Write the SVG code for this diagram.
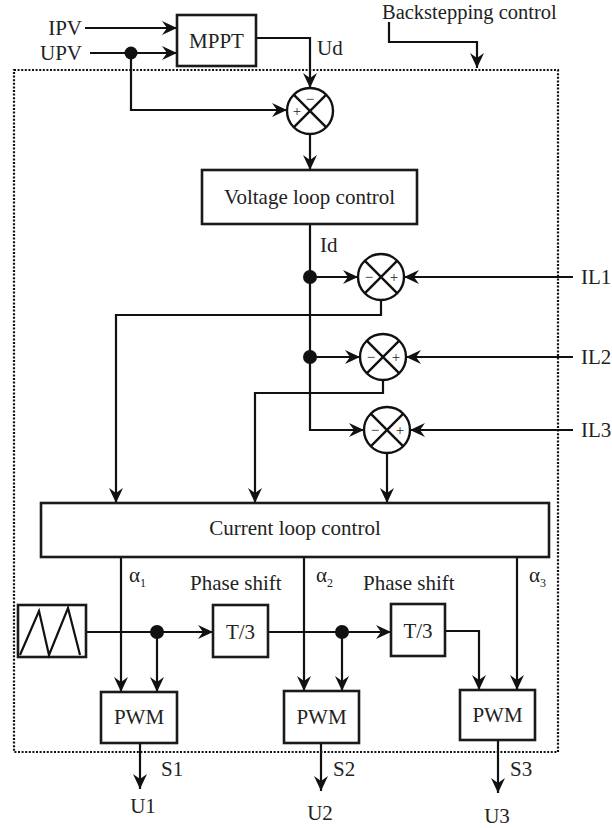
<svg xmlns="http://www.w3.org/2000/svg" width="612" height="828" viewBox="0 0 612 828">
<defs>
<style>
text{font-family:"Liberation Serif","Times New Roman",serif;font-size:21px;fill:#222}
.c{text-anchor:middle}
.e{text-anchor:end}
.sg{font-size:15px;text-anchor:middle}
.sub{font-size:12px}
.box{fill:#fff;stroke:#1a1a1a;stroke-width:2.6}
.ln{fill:none;stroke:#111;stroke-width:2.2}
.arr{fill:none;stroke:#111;stroke-width:2.2;marker-end:url(#ah)}
.dot{fill:#111}
.sum{fill:#fff;stroke:#111;stroke-width:2.4}
.x{stroke:#111;stroke-width:2.4}
</style>
<marker id="ah" markerUnits="userSpaceOnUse" viewBox="-16 -8 17 16" refX="0" refY="0" markerWidth="17" markerHeight="16" orient="auto">
<path d="M0,0 L-15,-7 L-10,0 L-15,7 Z" fill="#111"/>
</marker>
</defs>
<rect width="612" height="828" fill="#fff"/>

<g id="boundary">
<rect x="14" y="70" width="544" height="682" fill="none" stroke="#111" stroke-width="2.2" stroke-dasharray="2 1.6"/>
<text x="382" y="18.5" style="font-size:20.5px">Backstepping control</text>
</g>

<g id="connectors">
<path class="arr" d="M85,28 H177"/>
<path class="arr" d="M90,53 H177"/>
<path class="arr" d="M131,53 V110 H287"/>
<path class="arr" d="M256,38 H310 V88"/>
<path class="arr" d="M310,134 V170"/>
<path class="arr" d="M389,22 V42 H477 V68"/>
<path class="arr" d="M310,224 V430 H364"/>
<path class="arr" d="M310,277 H358"/>
<path class="arr" d="M573,277 H404"/>
<path class="arr" d="M381,300 V315 H116 V503"/>
<path class="arr" d="M310,357 H360"/>
<path class="arr" d="M573,357 H406"/>
<path class="arr" d="M383,380 V393 H255 V503"/>
<path class="arr" d="M573,430 H410"/>
<path class="arr" d="M387,453 V503"/>
<path class="arr" d="M121,557 V692"/>
<path class="arr" d="M304,557 V691"/>
<path class="arr" d="M517,557 V690"/>
<path class="arr" d="M86,632 H213"/>
<path class="arr" d="M157,632 V692"/>
<path class="arr" d="M268,632 H391"/>
<path class="arr" d="M342,632 V691"/>
<path class="arr" d="M445,631 H479 V690"/>
<path class="arr" d="M140,743 V789"/>
<path class="arr" d="M321,743 V791"/>
<path class="arr" d="M498,740 V793"/>
<circle class="dot" cx="131" cy="53" r="6.5"/>
<circle class="dot" cx="310" cy="277" r="7"/>
<circle class="dot" cx="310" cy="357" r="7"/>
<circle class="dot" cx="157" cy="632" r="7"/>
<circle class="dot" cx="342" cy="632" r="7"/>
<text x="82" y="35" class="e">IPV</text>
<text x="82" y="60" class="e">UPV</text>
<text x="317" y="55">Ud</text>
<text x="320" y="252">Id</text>
<text x="581" y="284">IL1</text>
<text x="581" y="364">IL2</text>
<text x="581" y="437">IL3</text>
<text x="129" y="582">α<tspan class="sub" dy="5">1</tspan></text>
<text x="316" y="582">α<tspan class="sub" dy="5">2</tspan></text>
<text x="529" y="582">α<tspan class="sub" dy="5">3</tspan></text>
<text x="190" y="590">Phase shift</text>
<text x="363" y="590">Phase shift</text>
<text x="161" y="776">S1</text>
<text x="333" y="776">S2</text>
<text x="510" y="776">S3</text>
<text x="143" y="813" class="c">U1</text>
<text x="320" y="820" class="c">U2</text>
<text x="497" y="823" class="c">U3</text>
</g>

<g id="mppt">
<rect class="box" x="177" y="15" width="79" height="51"/>
<text x="216.5" y="48" class="c">MPPT</text>
</g>

<g id="sum-voltage">
<circle class="sum" cx="310" cy="111" r="23"/>
<path class="x" d="M293.7,94.7 L326.3,127.3 M326.3,94.7 L293.7,127.3"/>
<text x="310" y="104" class="sg">−</text>
<text x="297" y="116" class="sg">+</text>
</g>

<g id="voltage-loop">
<rect class="box" x="202" y="170" width="215" height="54"/>
<text x="309.5" y="204" class="c">Voltage loop control</text>
</g>

<g id="sum-1">
<circle class="sum" cx="381" cy="277" r="23"/>
<path class="x" d="M364.7,260.7 L397.3,293.3 M397.3,260.7 L364.7,293.3"/>
<text x="369" y="282" class="sg">−</text>
<text x="394" y="282" class="sg">+</text>
</g>

<g id="sum-2">
<circle class="sum" cx="383" cy="357" r="23"/>
<path class="x" d="M366.7,340.7 L399.3,373.3 M399.3,340.7 L366.7,373.3"/>
<text x="371" y="362" class="sg">−</text>
<text x="396" y="362" class="sg">+</text>
</g>

<g id="sum-3">
<circle class="sum" cx="387" cy="430" r="23"/>
<path class="x" d="M370.7,413.7 L403.3,446.3 M403.3,413.7 L370.7,446.3"/>
<text x="375" y="435" class="sg">−</text>
<text x="400" y="435" class="sg">+</text>
</g>

<g id="current-loop">
<rect class="box" x="41" y="503" width="508" height="54"/>
<text x="295" y="535" class="c">Current loop control</text>
</g>

<g id="sawtooth">
<rect class="box" x="18" y="605" width="68" height="52"/>
<polyline class="ln" points="20,655 39,611 49,655 68,608 80,655"/>
</g>

<g id="phase-shift-1">
<rect class="box" x="213" y="605" width="55" height="52"/>
<text x="240.5" y="639" class="c">T/3</text>
</g>

<g id="phase-shift-2">
<rect class="box" x="391" y="604" width="54" height="52"/>
<text x="418" y="638" class="c">T/3</text>
</g>

<g id="pwm-1">
<rect class="box" x="101" y="692" width="76" height="51"/>
<text x="139" y="724" class="c">PWM</text>
</g>

<g id="pwm-2">
<rect class="box" x="284" y="691" width="75" height="52"/>
<text x="321.5" y="724" class="c">PWM</text>
</g>

<g id="pwm-3">
<rect class="box" x="460" y="690" width="75" height="50"/>
<text x="497.5" y="722" class="c">PWM</text>
</g>
</svg>
